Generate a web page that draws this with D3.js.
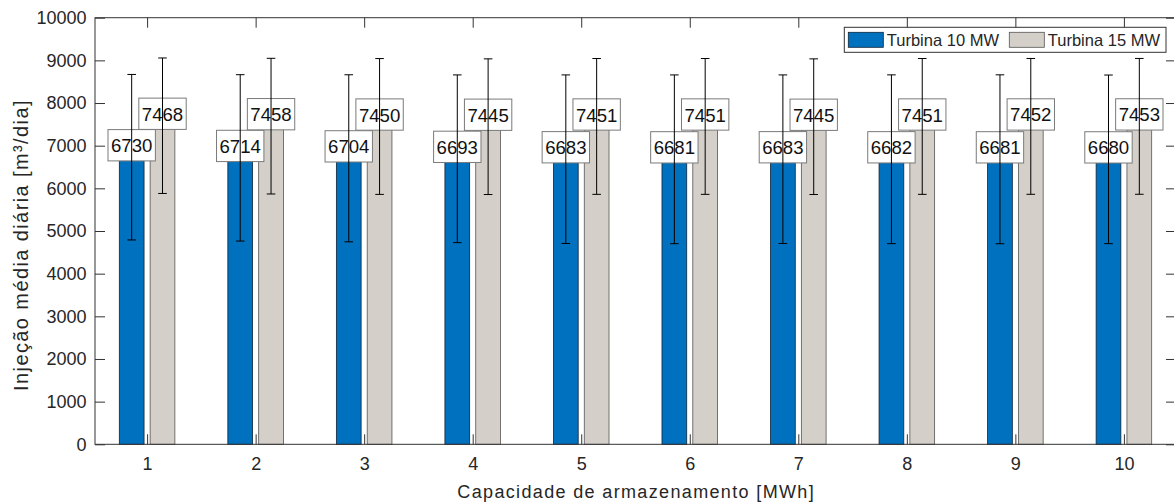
<!DOCTYPE html>
<html>
<head>
<meta charset="utf-8">
<script src="https://cdn.jsdelivr.net/npm/d3@7"></script>
<style>
  html, body { margin: 0; padding: 0; background: #fff; }
  svg { display: block; font-family: "Liberation Sans", Arial, sans-serif; }
</style>
</head>
<body>
<svg id="chart" width="1174" height="502"></svg>
<script>
// Storage capacity (MWh) on the x axis
const capacities = [1, 2, 3, 4, 5, 6, 7, 8, 9, 10];
// Mean daily injection [m³/dia] for each turbine
const turbine10 = [6730, 6714, 6704, 6693, 6683, 6681, 6683, 6682, 6681, 6680];
const turbine15 = [7468, 7458, 7450, 7445, 7451, 7451, 7445, 7451, 7452, 7453];
// Standard deviation shown as error bars
const turbine10Err = [1940, 1950, 1958, 1966, 1976, 1978, 1976, 1978, 1980, 1976];
const turbine15Err = [1588, 1590, 1592, 1590, 1592, 1592, 1590, 1592, 1592, 1592];
const yTicks = [0, 1000, 2000, 3000, 4000, 5000, 6000, 7000, 8000, 9000, 10000];
const seriesNames = ["Turbina 10 MW", "Turbina 15 MW"];
const seriesColors = ["#0071BE", "#D4D0C9"];

const svg = d3.select("#chart");
const plotLeft = 95, plotRight = 1176, plotTop = 17.7, plotBottom = 444.3;

const x = d3.scaleLinear().domain([0.52, 10.48]).range([plotLeft, plotRight]);
const y = d3.scaleLinear().domain([0, 10000]).range([plotBottom, plotTop]);

const barOffset = 0.142, barWidth = 0.228;
const axisColor = "#333";
const textColor = "#262626";

// Bars
const series = [
  { values: turbine10, errs: turbine10Err, off: -barOffset, color: seriesColors[0], stroke: "#10243a" },
  { values: turbine15, errs: turbine15Err, off: barOffset, color: seriesColors[1], stroke: "#555" }
];

const gBars = svg.append("g");
series.forEach(s => {
  gBars.selectAll(null)
    .data(capacities.map((c, i) => ({ c, v: s.values[i] })))
    .enter().append("rect")
    .attr("x", d => x(d.c + s.off - barWidth / 2))
    .attr("width", d => x(d.c + s.off + barWidth / 2) - x(d.c + s.off - barWidth / 2))
    .attr("y", d => y(d.v))
    .attr("height", d => y(0) - y(d.v))
    .attr("fill", s.color)
    .attr("stroke", s.stroke)
    .attr("stroke-width", 0.8);
});

// Frame and ticks (ticks point inward, on all four sides)
svg.append("rect")
  .attr("x", plotLeft).attr("y", plotTop)
  .attr("width", plotRight - plotLeft).attr("height", plotBottom - plotTop)
  .attr("fill", "none").attr("stroke", axisColor).attr("stroke-width", 1);

const styleAxis = g => {
  g.select(".domain").remove();
  g.selectAll("line").attr("stroke", axisColor);
  g.selectAll("text").attr("fill", textColor).style("font-size", "18px")
    .style("font-family", "'Liberation Sans', Arial, sans-serif");
};

svg.append("g").attr("transform", `translate(0,${plotBottom})`)
  .call(d3.axisBottom(x).tickValues(capacities).tickFormat(d3.format("d"))
    .tickSizeInner(-10).tickSizeOuter(0).tickPadding(13))
  .call(styleAxis);
svg.append("g").attr("transform", `translate(0,${plotTop})`)
  .call(d3.axisTop(x).tickValues(capacities).tickFormat("")
    .tickSizeInner(-10).tickSizeOuter(0))
  .call(styleAxis);
svg.append("g").attr("transform", `translate(${plotLeft},0)`)
  .call(d3.axisLeft(y).tickValues(yTicks).tickFormat(d3.format("d"))
    .tickSizeInner(-10).tickSizeOuter(0).tickPadding(8.5))
  .call(styleAxis);
svg.append("g").attr("transform", `translate(${plotRight},0)`)
  .call(d3.axisRight(y).tickValues(yTicks).tickFormat("")
    .tickSizeInner(-10).tickSizeOuter(0))
  .call(styleAxis);

// Value boxes above each bar
const gLabels = svg.append("g");
series.forEach(s => {
  capacities.forEach((c, i) => {
    const cx = x(c + s.off);
    const by = y(s.values[i]) + 3.7;
    const t = gLabels.append("text")
      .attr("x", cx).attr("y", by - 8.6)
      .attr("text-anchor", "middle")
      .attr("fill", "#111")
      .style("font-size", "18.6px")
      .text(s.values[i]);
    const w = t.node().getComputedTextLength() + 6;
    gLabels.insert("rect", () => t.node())
      .attr("x", cx - w / 2).attr("y", by - 31.3)
      .attr("width", w).attr("height", 31.3)
      .attr("fill", "#fff").attr("stroke", "#7a7a7a").attr("stroke-width", 1);
  });
});

// Error bars
const gErr = svg.append("g").attr("stroke", "#000").attr("stroke-width", 1);
const capHalf = 4.3;
series.forEach(s => {
  capacities.forEach((c, i) => {
    const cx = x(c + s.off);
    const hi = y(s.values[i] + s.errs[i]);
    const lo = y(s.values[i] - s.errs[i]);
    gErr.append("line").attr("x1", cx).attr("x2", cx).attr("y1", hi).attr("y2", lo);
    gErr.append("line").attr("x1", cx - capHalf).attr("x2", cx + capHalf).attr("y1", hi).attr("y2", hi);
    gErr.append("line").attr("x1", cx - capHalf).attr("x2", cx + capHalf).attr("y1", lo).attr("y2", lo);
  });
});

// Axis titles
svg.append("text")
  .attr("x", (plotLeft + plotRight) / 2 + 0.7).attr("y", 498)
  .attr("text-anchor", "middle").attr("fill", textColor)
  .style("font-size", "18px").style("letter-spacing", "1.35px")
  .text("Capacidade de armazenamento [MWh]");
svg.append("text")
  .attr("transform", `translate(28,${(plotTop + plotBottom) / 2 + 14}) rotate(-90)`)
  .attr("text-anchor", "middle").attr("fill", textColor)
  .style("font-size", "20px").style("letter-spacing", "1.4px")
  .text("Injeção média diária [m³/dia]");

// Legend
const legend = svg.append("g");
legend.append("rect")
  .attr("x", 844.3).attr("y", 27.3).attr("width", 321.7).attr("height", 25)
  .attr("fill", "#fff").attr("stroke", axisColor).attr("stroke-width", 1);
const legendX = [848.3, 1009.3];
seriesNames.forEach((name, i) => {
  legend.append("rect")
    .attr("x", legendX[i]).attr("y", 32.3).attr("width", 35).attr("height", 15)
    .attr("fill", seriesColors[i]).attr("stroke", i === 0 ? "#10243a" : "#555").attr("stroke-width", 0.8);
  legend.append("text")
    .attr("x", legendX[i] + 38.5).attr("y", 46.4)
    .attr("fill", textColor).style("font-size", "16.5px")
    .text(name);
});
</script>
</body>
</html>
